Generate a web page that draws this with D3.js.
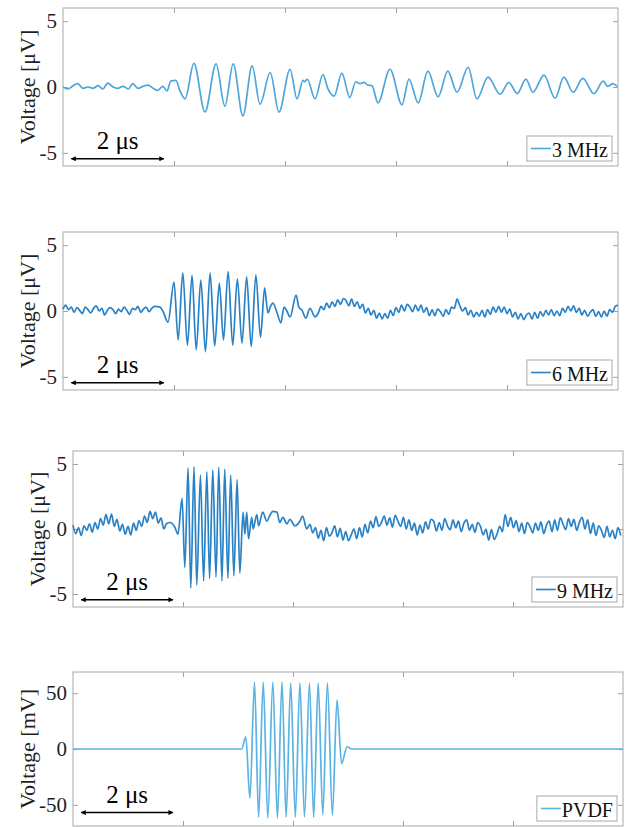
<!DOCTYPE html>
<html>
<head>
<meta charset="utf-8">
<script src="https://cdn.jsdelivr.net/npm/d3@7"></script>
<style>
  body { margin: 0; background: #fff; }
  svg text { font-family: "Liberation Serif", "Times New Roman", serif; }
</style>
</head>
<body>
<script>

// ---- data ----

// time axis in microseconds, same for all four panels
var xMax = 12;
var xTicks = [2.4, 4.8, 7.2, 9.6];
var scaleBar = [0.18, 2.18];        // the "2 μs" bar
var scaleBarText = "2 μs";

var yTicksMicro = [-5, 0, 5];
var yTicksMilli = [-50, 0, 50];

var legendNames = ["3 MHz", "6 MHz", "9 MHz", "PVDF"];
var yLabels = ["Voltage [μV]", "Voltage [μV]", "Voltage [μV]", "Voltage [mV]"];

// 3 MHz trace, [t (μs), V (μV)]
var trace3 = [[0,0],[0.11,-0.15],[0.22,0.1],[0.32,0.25],[0.43,-0.1],[0.54,0],[0.65,-0.1],[0.76,0.1],
  [0.86,-0.15],[0.97,0.3],[1.08,0],[1.19,-0.1],[1.30,0.05],[1.41,-0.15],[1.51,0.25],[1.62,-0.1],
  [1.73,0.05],[1.84,0.15],[1.95,-0.1],[2.05,-0.25],[2.16,0.05],[2.25,-0.3],[2.33,0.45],[2.44,0.5],
  [2.53,-0.3],[2.64,-0.9],[2.83,1.8],[3.07,-1.9],[3.31,1.75],[3.50,-1.45],[3.68,1.75],[3.89,-2.2],
  [4.09,1.6],[4.26,-1.3],[4.48,1.1],[4.67,-1.9],[4.91,1.35],[5.06,-0.9],[5.19,0.5],[5.23,0.4],
  [5.28,0.6],[5.45,-0.9],[5.62,0.95],[5.73,-0.15],[5.86,-0.7],[6.03,1.05],[6.20,-0.8],[6.33,0.4],
  [6.42,0.25],[6.51,0.35],[6.59,0.15],[6.68,0.1],[6.81,-1.2],[7.07,1.35],[7.33,-1.35],[7.48,0.6],
  [7.68,-1.2],[7.89,1.2],[8.11,-0.75],[8.32,1.2],[8.52,-0.4],[8.76,1.5],[8.95,-0.9],[9.19,0.75],
  [9.45,-0.55],[9.64,0.35],[9.82,-0.5],[10.01,0.6],[10.16,-0.4],[10.40,0.9],[10.64,-0.85],[10.83,0.75],
  [11.03,-0.4],[11.24,0.65],[11.48,-0.5],[11.68,0.45],[11.78,0.05],[11.89,0.25],[11.98,0.05]];

// 6 MHz: noise before, burst, noise after (noise sampled every 0.06 μs)
var step6 = 0.06;
var pre6Start = 0;
var pre6 = [0.15,0.45,0.1,0.3,-0.1,0.25, 0.05,-0.2,0.3,0.1,-0.15,0.2, 0.4,0.0,0.2,-0.3,0.05,0.25,
  0.1,-0.2,0.15,-0.05,0.3,0.05, -0.25,0.2,0.1,0.35,-0.1,0.15, 0.3,-0.05,0.2,0.35];
var burst6 = [[2.10,0.3],[2.16,0],[2.27,-0.85],[2.40,2.2],[2.49,-2.2],[2.59,2.9],[2.69,-2.6],
  [2.79,2.7],[2.88,-2.95],[2.98,2.35],[3.08,-3.1],[3.18,2.9],[3.28,-2.65],[3.38,2.1],[3.47,-2.2],
  [3.57,3.0],[3.67,-2.6],[3.77,2.45],[3.87,-2.45],[3.97,2.6],[4.07,-2.7],[4.17,2.75],[4.27,-2.0],
  [4.36,1.75],[4.43,-0.15],[4.48,0.3],[4.54,0.6],[4.63,-0.15],[4.71,-0.9],[4.78,0.3],[4.84,0.0],
  [4.91,-0.45],[5.04,1.2],[5.10,0.3],[5.17,0.05],[5.25,-0.55],[5.34,0.2],[5.45,-0.45]];
var post6Start = 5.52;
var post6 = [-0.15,0.35,0.1,0.6,0.25,0.7, 0.35,0.85,0.5,0.95,0.8,0.4, 0.9,0.35,0.7,0.2,0.5,-0.15,
  0.2,-0.3,0.05,-0.55,-0.15,-0.6, -0.2,-0.55,0.05,-0.35,0.25,-0.1, 0.45,0.0,0.5,0.3,-0.05,0.45,
  0.0,0.45,-0.1,0.25,-0.35,0.1, -0.35,0.15,-0.05,-0.4,0.1,-0.25, 0.3,0.2,0.9,0.4,0.0,0.25,
  -0.3,0.05,-0.45,-0.1,-0.4,0.05, -0.45,0.1,-0.25,0.3,-0.1,0.35, -0.1,0.3,-0.2,0.15,-0.45,-0.1,
  -0.6,-0.2,-0.65,-0.3,-0.15,-0.6, -0.1,-0.55,-0.05,-0.4,0.05,-0.3, 0.1,-0.35,0.0,-0.35,0.2,-0.1,
  0.35,0.0,0.4,-0.1,0.2,-0.3, 0.05,-0.4,-0.1,0.1,-0.4,-0.05, -0.45,0.0,-0.4,0.1,-0.1,0.35, 0.45];

// 9 MHz: noise sampled every 0.06 μs
var step9 = 0.06;
var pre9Start = 0;
var pre9 = [0.3,-0.35,0.1,-0.5,0.25,-0.1, 0.4,-0.25,0.5,0.0,0.8,0.3, 1.1,0.4,1.15,0.2,0.75,-0.15,
  0.35,-0.4,0.2,-0.45,0.45,-0.1, 0.65,0.2,1.0,0.5,1.35,0.8, 1.3,0.45,0.85,0.0,0.4];
var burst9 = [[2.12,0.5],[2.22,0.15],[2.29,-0.4],[2.38,2.35],[2.44,-2.95],[2.51,4.7],[2.57,-4.55],
  [2.64,4.8],[2.70,-4.3],[2.78,4.15],[2.85,-4.0],[2.92,4.4],[2.98,-3.8],[3.05,4.55],[3.12,-3.7],
  [3.18,4.75],[3.25,-4.0],[3.31,4.6],[3.38,-3.8],[3.44,4.15],[3.51,-3.6],[3.58,3.8],[3.64,-3.4],
  [3.71,1.3],[3.75,-0.4],[3.79,1.3],[3.83,-0.75],[3.90,0.9],[3.93,0],[4.01,1.1],[4.05,0.25],
  [4.14,1.3],[4.23,0.6],[4.29,1.0],[4.36,1.35],[4.45,1.3],[4.51,0.5],[4.58,0.9],[4.67,0.4],
  [4.73,0.75],[4.84,0.25],[4.95,0.6],[5.01,1.0],[5.10,0]];
var post9Start = 5.17;
var post9 = [0.35,-0.3,0.1,-0.7,-0.1,-0.9, 0.1,-0.55,-0.3,0.25,-0.6,0.05, -0.85,-0.2,-0.9,-0.45,0.0,-0.75,
  0.1,-0.6,0.35,-0.3,0.6,0.1, 0.95,0.2,0.5,1.0,0.3,0.85, 0.15,1.05,0.6,0.2,0.9,0.0,
  0.7,-0.1,0.45,-0.45,0.3,-0.3, 0.55,0.0,0.75,0.6,-0.15,0.5, -0.1,0.8,0.25,-0.05,0.7,0.1,
  0.6,-0.2,0.45,0.7,-0.1,0.35, -0.25,0.5,0.2,-0.45,0.0,-0.85, -0.05,-0.8,-0.4,0.2,-0.2,1.1,
  0.2,0.9,0.1,0.65,-0.2,0.45, -0.35,0.5,0.2,-0.3,0.45,-0.1, 0.55,-0.35,0.3,0.6,-0.2,0.7,
  -0.1,0.85,0.4,-0.05,0.8,0.2, 0.75,-0.1,0.55,0.9,0.0,0.7, -0.35,0.45,-0.5,0.25,-0.1,-0.65,
  0.2,-0.6,-0.1,-0.75,0.1,-0.5];

// PVDF reference, [t (μs), V (mV)]
var tracePVDF = [[0,0],[3.68,0],[3.77,11],[3.86,-44],[3.96,60],[4.05,-61],[4.15,60],[4.25,-62],
  [4.36,60],[4.46,-62],[4.56,60],[4.65,-61],[4.75,59],[4.85,-61],[4.95,59],[5.05,-61],[5.16,59],
  [5.25,-61],[5.35,59],[5.45,-59],[5.55,59],[5.66,-59],[5.76,44],[5.86,-13],[5.98,2],[6.08,0],[12,0]];


// ---- helpers ----

// turn a noise block into [t, v] points
function sampled(start, step, values) {
  return values.map(function(v, i) { return [start + i * step, v]; });
}

var trace6 = sampled(pre6Start, step6, pre6).concat(burst6, sampled(post6Start, step6, post6));
var trace9 = sampled(pre9Start, step9, pre9).concat(burst9, sampled(post9Start, step9, post9));

// panel layout (pixels)
var panels = [
  {data: trace3, left: 63, right: 618, top: 8, bottom: 166, yMax: 6, ticks: yTicksMicro, barY: -5.45, labelX: 27, color: "#4ea6dc", width: 1.7},
  {data: trace6, left: 63, right: 618, top: 232, bottom: 390, yMax: 6, ticks: yTicksMicro, barY: -5.45, labelX: 27, color: "#2a82c6", width: 1.7},
  {data: trace9, left: 73, right: 623, top: 451, bottom: 607, yMax: 6, ticks: yTicksMicro, barY: -5.45, labelX: 37, color: "#2a82c6", width: 1.7},
  {data: tracePVDF, left: 73, right: 623, top: 672, bottom: 826, yMax: 69, ticks: yTicksMilli, barY: -57, labelX: 27, color: "#5ab3e2", width: 1.7}
];

var svg = d3.select("body").append("svg")
  .attr("width", 625)
  .attr("height", 827);

// arrow heads for the scale bar
var defs = svg.append("defs");
defs.append("marker")
  .attr("id", "arrowEnd")
  .attr("viewBox", "0 0 10 10")
  .attr("refX", 9).attr("refY", 5)
  .attr("markerWidth", 6).attr("markerHeight", 5)
  .attr("markerUnits", "userSpaceOnUse")
  .attr("orient", "auto-start-reverse")
  .append("path")
  .attr("d", "M0,0 L10,5 L0,10 z")
  .style("fill", "#000");

panels.forEach(function(p, i) {
  var x = d3.scaleLinear().domain([0, xMax]).range([p.left, p.right]);
  var y = d3.scaleLinear().domain([-p.yMax, p.yMax]).range([p.bottom, p.top]);

  var g = svg.append("g");

  // box
  g.append("rect")
    .attr("x", p.left).attr("y", p.top)
    .attr("width", p.right - p.left).attr("height", p.bottom - p.top)
    .style("fill", "none")
    .style("stroke", "#a8a8a8")
    .style("stroke-width", 1);

  // inward ticks on all four sides
  var axes = [
    g.append("g").attr("transform", "translate(0," + p.bottom + ")")
      .call(d3.axisBottom(x).tickValues(xTicks).tickSize(-5).tickFormat("")),
    g.append("g").attr("transform", "translate(0," + p.top + ")")
      .call(d3.axisTop(x).tickValues(xTicks).tickSize(-5).tickFormat("")),
    g.append("g").attr("transform", "translate(" + p.right + ",0)")
      .call(d3.axisRight(y).tickValues(p.ticks).tickSize(-5).tickFormat("")),
    g.append("g").attr("transform", "translate(" + p.left + ",0)")
      .call(d3.axisLeft(y).tickValues(p.ticks).tickSize(-5).tickPadding(6)
        .tickFormat(function(d) { return String(d); }))
  ];
  axes.forEach(function(a) {
    a.select(".domain").remove();
    a.selectAll(".tick line").style("stroke", "#a0a0a0");
  });
  axes[3].selectAll(".tick text")
    .style("font-size", "21px")
    .style("fill", "#1f1f1f")
    .style("font-family", "Liberation Serif, serif");

  // y label
  g.append("text")
    .attr("transform", "translate(" + p.labelX + "," + ((p.top + p.bottom) / 2) + ") rotate(-90)")
    .attr("text-anchor", "middle")
    .attr("dy", "0.35em")
    .style("font-size", "22px")
    .style("fill", "#1f1f1f")
    .text(yLabels[i]);

  // trace
  var line = d3.line()
    .x(function(d) { return x(d[0]); })
    .y(function(d) { return y(d[1]); })
    .curve(d3.curveMonotoneX);

  g.append("path")
    .datum(p.data)
    .attr("d", line)
    .style("fill", "none")
    .style("stroke", p.color)
    .style("stroke-width", p.width)
    .style("stroke-linejoin", "round");

  // scale bar
  var barY = y(p.barY);
  g.append("line")
    .attr("x1", x(scaleBar[0])).attr("x2", x(scaleBar[1]))
    .attr("y1", barY).attr("y2", barY)
    .style("stroke", "#000")
    .style("stroke-width", 1.5)
    .attr("marker-start", "url(#arrowEnd)")
    .attr("marker-end", "url(#arrowEnd)");

  g.append("text")
    .attr("x", (x(scaleBar[0]) + x(scaleBar[1])) / 2)
    .attr("y", barY - 10)
    .attr("text-anchor", "middle")
    .style("font-size", "25px")
    .style("fill", "#000")
    .text(scaleBarText);

  // legend in the lower right corner
  var lg = g.append("g");
  var lgText = lg.append("text")
    .attr("y", 0)
    .attr("dy", "0.35em")
    .style("font-size", "20px")
    .style("fill", "#111")
    .text(legendNames[i]);
  var textW = lgText.node().getComputedTextLength();
  var boxW = 4 + 20 + 1 + textW + 4;
  var boxH = 25;
  var bx = p.right - 6 - boxW;
  var by = p.bottom - 5 - boxH;
  lg.insert("rect", "text")
    .attr("x", bx).attr("y", by)
    .attr("width", boxW).attr("height", boxH)
    .style("fill", "#fff")
    .style("stroke", "#a8a8a8");
  lg.append("line")
    .attr("x1", bx + 4).attr("x2", bx + 24)
    .attr("y1", by + boxH / 2).attr("y2", by + boxH / 2)
    .style("stroke", p.color)
    .style("stroke-width", 1.6);
  lgText.attr("x", bx + 25).attr("y", by + boxH / 2 + 1);
});

</script>
</body>
</html>
